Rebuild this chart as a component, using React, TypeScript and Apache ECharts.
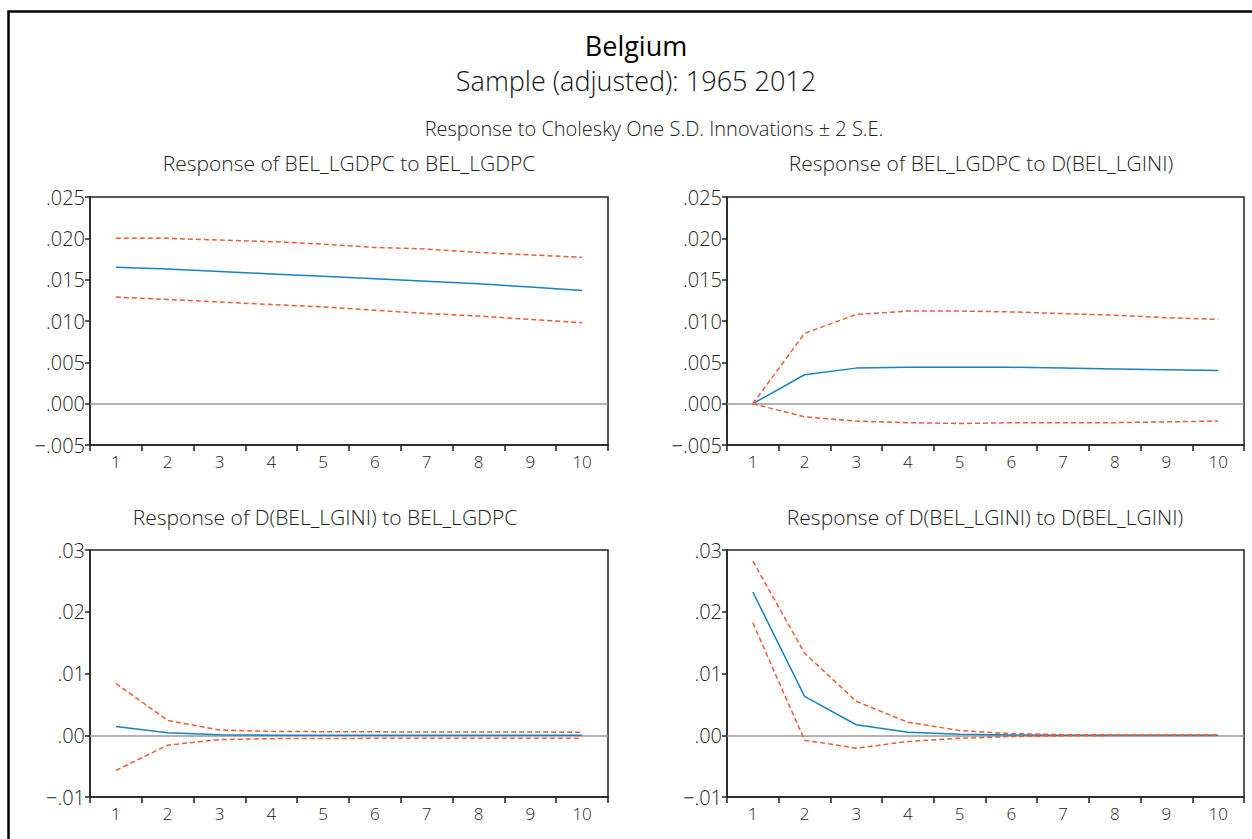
import React, { useEffect, useRef } from "react";
import * as echarts from "echarts";

const periods = ["1", "2", "3", "4", "5", "6", "7", "8", "9", "10"];

// Response of BEL_LGDPC to BEL_LGDPC
const gdpToGdp = [0.0165, 0.0163, 0.016, 0.0157, 0.0154, 0.0151, 0.0148, 0.0145, 0.0141, 0.0137];
const gdpToGdpUpper = [0.02, 0.02, 0.0198, 0.0196, 0.0193, 0.0189, 0.0187, 0.0183, 0.018, 0.0177];
const gdpToGdpLower = [0.0129, 0.0126, 0.0123, 0.012, 0.0117, 0.0113, 0.0109, 0.0106, 0.0102, 0.0098];

// Response of BEL_LGDPC to D(BEL_LGINI)
const gdpToGini = [0, 0.0035, 0.0043, 0.0044, 0.0044, 0.0044, 0.0043, 0.0042, 0.0041, 0.004];
const gdpToGiniUpper = [0, 0.0085, 0.0108, 0.0112, 0.0112, 0.0111, 0.0109, 0.0107, 0.0104, 0.0102];
const gdpToGiniLower = [0, -0.0016, -0.0021, -0.0023, -0.0024, -0.0023, -0.0023, -0.0023, -0.0022, -0.0021];

// Response of D(BEL_LGINI) to BEL_LGDPC
const giniToGdp = [0.0014, 0.0004, 0.0001, 0.00002, 0, 0, 0, 0, 0, 0];
const giniToGdpUpper = [0.0084, 0.0024, 0.00085, 0.00063, 0.00058, 0.00055, 0.00053, 0.00052, 0.00051, 0.0005];
const giniToGdpLower = [-0.0057, -0.0016, -0.0007, -0.00055, -0.00052, -0.0005, -0.0005, -0.0005, -0.0005, -0.0005];

// Response of D(BEL_LGINI) to D(BEL_LGINI)
const giniToGini = [0.0232, 0.0063, 0.0017, 0.0005, 0.00016, 0.00005, 0.00002, 0.00001, 0, 0];
const giniToGiniUpper = [0.0282, 0.0133, 0.0055, 0.0021, 0.00076, 0.00027, 0.0001, 0.00005, 0.00003, 0.00002];
const giniToGiniLower = [0.0182, -0.0008, -0.0021, -0.001, -0.0005, -0.0002, -0.0001, -0.00005, -0.00003, -0.00002];

const panelTitles = [
  "Response of BEL_LGDPC to BEL_LGDPC",
  "Response of BEL_LGDPC to D(BEL_LGINI)",
  "Response of D(BEL_LGINI) to BEL_LGDPC",
  "Response of D(BEL_LGINI) to D(BEL_LGINI)",
];

const FONT = "'Open Sans', Lato, sans-serif";
const INK = "#222";
const BLUE = "#1582c4";
const RED = "#f25a37";

export default function App() {
  const ref = useRef<HTMLDivElement>(null);

  useEffect(() => {
    if (!ref.current) return;
    const chart = echarts.init(ref.current, null, { renderer: "svg" });

    const grids = [
      { left: 90, top: 197, width: 518, height: 248 },
      { left: 727, top: 197, width: 517, height: 248 },
      { left: 90, top: 550, width: 518, height: 247 },
      { left: 727, top: 550, width: 517, height: 247 },
    ];
    const panels = [
      { main: gdpToGdp, up: gdpToGdpUpper, lo: gdpToGdpLower, min: -0.005, max: 0.025, step: 0.005, dec: 3 },
      { main: gdpToGini, up: gdpToGiniUpper, lo: gdpToGiniLower, min: -0.005, max: 0.025, step: 0.005, dec: 3 },
      { main: giniToGdp, up: giniToGdpUpper, lo: giniToGdpLower, min: -0.01, max: 0.03, step: 0.01, dec: 2 },
      { main: giniToGini, up: giniToGiniUpper, lo: giniToGiniLower, min: -0.01, max: 0.03, step: 0.01, dec: 2 },
    ];

    const fmt = (dec: number) => (v: number) => {
      const s = Math.abs(v) < 1e-9 ? (0).toFixed(dec) : v.toFixed(dec);
      return s.replace("-0.", "\u2212.").replace(/^0\./, ".");
    };

    const xAxis = grids.map((_, i) => ({
      type: "category",
      gridIndex: i,
      data: periods,
      boundaryGap: true,
      axisLine: { show: true, onZero: false, lineStyle: { color: INK, width: 1.5 } },
      axisTick: { show: true, length: 6, lineStyle: { color: INK, width: 1.5 } },
      axisLabel: { fontSize: 17, color: INK, margin: 8, fontFamily: FONT, fontWeight: 300 },
      splitLine: { show: false },
    }));
    const yAxis = panels.map((p, i) => ({
      type: "value",
      gridIndex: i,
      min: p.min,
      max: p.max,
      interval: p.step,
      axisLine: { show: true, lineStyle: { color: INK, width: 1.5 } },
      axisTick: { show: true, length: 5, lineStyle: { color: INK, width: 1.5 } },
      axisLabel: { fontSize: 20, color: INK, margin: 5, fontFamily: FONT, fontWeight: 300, formatter: fmt(p.dec) },
      splitLine: { show: false },
    }));

    const series: any[] = [];
    panels.forEach((p, i) => {
      series.push({
        type: "line",
        xAxisIndex: i,
        yAxisIndex: i,
        data: p.main,
        symbol: "none",
        lineStyle: { color: BLUE, width: 1.5 },
        z: 3,
        markLine: {
          silent: true,
          symbol: ["none", "none"],
          label: { show: false },
          lineStyle: { color: "#999", width: 1.5, type: "solid" },
          data: [{ yAxis: 0 }],
          z: 1,
        },
      });
      [p.up, p.lo].forEach((d) =>
        series.push({
          type: "line",
          xAxisIndex: i,
          yAxisIndex: i,
          data: d,
          symbol: "none",
          lineStyle: { color: RED, width: 1.5, type: [5, 3] },
          z: 4,
        })
      );
    });

    const titleCenters = [
      { x: 349, y: 163 },
      { x: 981, y: 163 },
      { x: 325, y: 517 },
      { x: 985, y: 517 },
    ];

    const graphic: any[] = [
      {
        type: "polyline",
        shape: { points: [[8.5, 839], [8.5, 11.5], [1252, 11.5]] },
        style: { stroke: "#000", lineWidth: 2.5, fill: "none" },
        silent: true,
      },
      {
        type: "text",
        x: 636,
        y: 45,
        style: { text: "Belgium", fontSize: 27, fontWeight: 500, fill: "#000", fontFamily: FONT, textAlign: "center", textVerticalAlign: "middle" },
      },
      {
        type: "text",
        x: 636,
        y: 80,
        style: { text: "Sample (adjusted): 1965 2012", fontSize: 27, fontWeight: 300, fill: "#111", fontFamily: FONT, textAlign: "center", textVerticalAlign: "middle" },
      },
      {
        type: "text",
        x: 654,
        y: 128,
        style: { text: "Response to Cholesky One S.D. Innovations \u00b1 2 S.E.", fontSize: 20, fontWeight: 300, fill: INK, fontFamily: FONT, textAlign: "center", textVerticalAlign: "middle" },
      },
      ...panelTitles.map((t, i) => ({
        type: "text",
        x: titleCenters[i].x,
        y: titleCenters[i].y,
        style: { text: t, fontSize: 21, fontWeight: 300, fill: INK, fontFamily: FONT, textAlign: "center", textVerticalAlign: "middle" },
      })),
    ];

    chart.setOption({
      animation: false,
      backgroundColor: "#fff",
      grid: grids.map((g) => ({ ...g, show: true, borderColor: INK, borderWidth: 1.5, backgroundColor: "transparent" })),
      xAxis,
      yAxis,
      series,
      graphic,
    });

    return () => chart.dispose();
  }, []);

  return (
    <div
      ref={ref}
      style={{ position: "absolute", left: 0, top: 0, width: 1252, height: 839, background: "#fff" }}
    />
  );
}
